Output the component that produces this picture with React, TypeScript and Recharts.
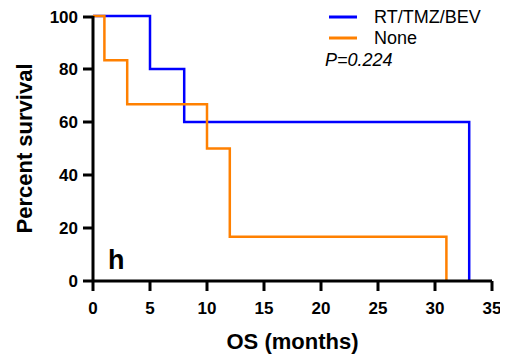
import { Label, Line, LineChart, XAxis, YAxis } from "recharts"

// Kaplan-Meier steps: time (months) -> percent surviving
const months = [0, 5, 10, 15, 20, 25, 30, 35]
const percentTicks = [0, 20, 40, 60, 80, 100]

const treated = [
  { t: 0, s: 100 },
  { t: 5, s: 80 },
  { t: 8, s: 60 },
  { t: 33, s: 0 },
]
const untreated = [
  { t: 0, s: 100 },
  { t: 1, s: 83.33 },
  { t: 3, s: 66.67 },
  { t: 10, s: 50 },
  { t: 12, s: 16.67 },
  { t: 31, s: 0 },
]

const seriesNames = ["RT/TMZ/BEV", "None"]
const seriesColors = ["#0000ff", "#ff8000"]
const pValue = "P=0.224"
const panelTag = "h"

const font = "Arial, 'Liberation Sans', sans-serif"

// plot edges (chart px): left = YAxis width, bottom = height - XAxis height
const PLOT_LEFT = 85
const PLOT_BOTTOM = 273

function XTick(props: any) {
  const { x, payload } = props
  return (
    <g>
      <line x1={x} x2={x} y1={PLOT_BOTTOM} y2={PLOT_BOTTOM + 10} stroke="#000" strokeWidth={3} />
      <text x={x} y={PLOT_BOTTOM + 21} dy="0.71em" textAnchor="middle" fontSize={17} fontWeight="bold" fontFamily={font} fill="#000">
        {payload.value}
      </text>
    </g>
  )
}

function YTick(props: any) {
  const { y, payload } = props
  return (
    <g>
      <line x1={PLOT_LEFT - 10} x2={PLOT_LEFT} y1={y} y2={y} stroke="#000" strokeWidth={3} />
      <text x={PLOT_LEFT - 15} y={y} dy="0.35em" textAnchor="end" fontSize={17} fontWeight="bold" fontFamily={font} fill="#000">
        {payload.value}
      </text>
    </g>
  )
}

function Annotations() {
  return (
    <svg width={500} height={348} style={{ position: "absolute", left: 0, top: 0, pointerEvents: "none" }}>
      {seriesNames.map((name, i) => (
        <g key={name}>
          <line x1={321} x2={349} y1={9 + i * 21} y2={9 + i * 21} stroke={seriesColors[i]} strokeWidth={3} />
          <text x={366} y={9 + i * 21} dy="0.35em" fontSize={18} fontFamily={font} fill="#000">
            {name}
          </text>
        </g>
      ))}
      <text x={317} y={52} dy="0.35em" fontSize={18} fontStyle="italic" fontFamily={font} fill="#000">
        {pValue}
      </text>
      <text x={100} y={261} fontSize={27} fontWeight="bold" fontFamily={font} fill="#000">
        {panelTag}
      </text>
    </svg>
  )
}

export default function App() {
  return (
    <div style={{ position: "relative", width: 500, height: 348 }}>
      <LineChart width={500} height={348} margin={{ top: 8, right: 16, left: 0, bottom: 0 }}>
        <XAxis
          type="number"
          dataKey="t"
          domain={[0, 35]}
          ticks={months}
          allowDuplicatedCategory={false}
          axisLine={{ stroke: "#000", strokeWidth: 3 }}
          tickLine={false}
          tick={XTick}
          height={75}
        >
          <Label
            value="OS (months)"
            position="insideBottom"
            offset={7}
            style={{ fill: "#000", stroke: "none", fontSize: 22, fontWeight: "bold", fontFamily: font }}
          />
        </XAxis>
        <YAxis
          type="number"
          dataKey="s"
          domain={[0, 100]}
          ticks={percentTicks}
          axisLine={{ stroke: "#000", strokeWidth: 3 }}
          tickLine={false}
          tick={YTick}
          width={PLOT_LEFT}
        >
          <Label
            value="Percent survival"
            angle={-90}
            position="insideLeft"
            offset={16}
            style={{ textAnchor: "middle", fill: "#000", stroke: "none", fontSize: 22, fontWeight: "bold", fontFamily: font }}
          />
        </YAxis>
        <Line
          data={treated}
          dataKey="s"
          name={seriesNames[0]}
          type="stepAfter"
          stroke={seriesColors[0]}
          strokeWidth={2.5}
          dot={false}
          isAnimationActive={false}
        />
        <Line
          data={untreated}
          dataKey="s"
          name={seriesNames[1]}
          type="stepAfter"
          stroke={seriesColors[1]}
          strokeWidth={2.5}
          dot={false}
          isAnimationActive={false}
        />
      </LineChart>
      <Annotations />
    </div>
  )
}
